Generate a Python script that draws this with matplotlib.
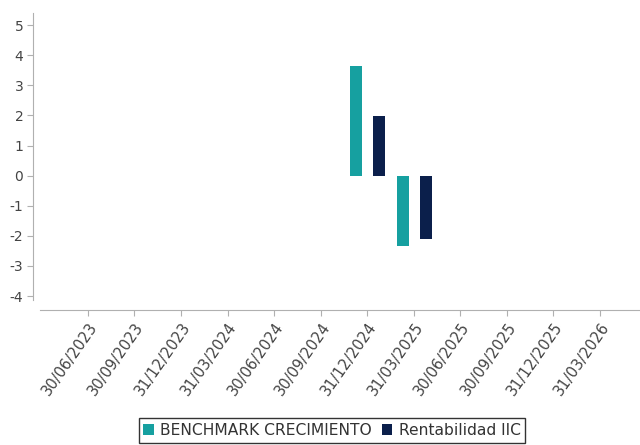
import matplotlib.pyplot as plt
import numpy as np

plt.rcParams['axes.unicode_minus'] = False

dates = ['30/06/2023', '30/09/2023', '31/12/2023', '31/03/2024', '30/06/2024',
         '30/09/2024', '31/12/2024', '31/03/2025', '30/06/2025', '30/09/2025',
         '31/12/2025', '31/03/2026']
benchmark = [np.nan, np.nan, np.nan, np.nan, np.nan, np.nan, 3.63, -2.33,
             np.nan, np.nan, np.nan, np.nan]
rentabilidad = [np.nan, np.nan, np.nan, np.nan, np.nan, np.nan, 1.97, -2.10,
                np.nan, np.nan, np.nan, np.nan]

teal = '#16a0a0'
navy = '#0b1f4b'
grey = '#b0b0b0'

fig = plt.figure(figsize=(6.4, 4.45), dpi=100)
ax = fig.add_axes([40 / 640, (445 - 300) / 445, 600 / 640, 287 / 445])

x = np.arange(len(dates))
w = 0.26
ax.bar(x - 0.24, benchmark, w, color=teal, label='BENCHMARK CRECIMIENTO')
ax.bar(x + 0.26, rentabilidad, w, color=navy, label='Rentabilidad IIC')

ax.set_xlim(-1.03, 11.86)
ax.set_ylim(-4.13, 5.4)
ax.set_yticks(range(-4, 6))

for s in ['top', 'right']:
    ax.spines[s].set_visible(False)
ax.spines['left'].set_position(('outward', 5))
ax.spines['bottom'].set_position(('outward', 7))
ax.spines['left'].set_color(grey)
ax.spines['bottom'].set_color(grey)

ax.tick_params(axis='both', colors=grey, labelcolor='#444444', labelsize=10, length=4)
ax.tick_params(axis='x', pad=3, labelsize=10.6)
ax.tick_params(axis='y', pad=3)

ax.set_xticks(x)
ax.set_xticklabels(dates, rotation=55, ha='right', va='top', rotation_mode='anchor')

leg = fig.legend(loc='lower center', bbox_to_anchor=(332 / 640, -0.012), ncol=2,
                 fontsize=11.2, frameon=True, fancybox=False, edgecolor='black',
                 handlelength=0.7, handleheight=0.7, handletextpad=0.4,
                 columnspacing=0.6, borderpad=0.3, labelcolor='#333333')
leg.get_frame().set_linewidth(1.0)

plt.savefig('out.png', dpi=100)
